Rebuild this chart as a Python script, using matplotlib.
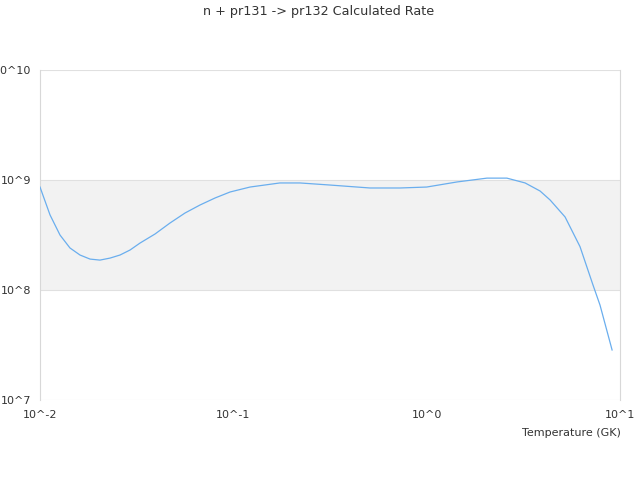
import matplotlib
matplotlib.use("Agg")
import matplotlib.pyplot as plt
from matplotlib.ticker import FixedLocator, FixedFormatter, NullLocator

title = "n + pr131 -> pr132 Calculated Rate"
xlabel = "Temperature (GK)"

temperature = [0.01, 0.01127, 0.01269, 0.01429, 0.0161, 0.01815, 0.02042, 0.02302,
               0.02594, 0.02923, 0.03289, 0.03936, 0.04699, 0.05623, 0.0673, 0.0804,
               0.0962, 0.122, 0.174, 0.221, 0.316, 0.509, 0.728, 1.0, 1.436, 2.05,
               2.6, 3.23, 3.86, 4.35, 5.2, 6.21, 7.25, 7.88, 9.1]
rate = [8.63e8, 4.81e8, 3.16e8, 2.41e8, 2.08e8, 1.91e8, 1.87e8, 1.95e8,
        2.08e8, 2.31e8, 2.67e8, 3.23e8, 4.06e8, 5.01e8, 5.93e8, 6.86e8,
        7.78e8, 8.63e8, 9.4e8, 9.4e8, 9.0e8, 8.46e8, 8.46e8, 8.63e8, 9.6e8, 1.04e9,
        1.04e9, 9.4e8, 7.94e8, 6.58e8, 4.61e8, 2.48e8, 1.11e8, 7.3e7, 2.85e7]

x_ticks = [1e-2, 1e-1, 1e0, 1e1]
x_tick_labels = ["10^-2", "10^-1", "10^0", "10^1"]
y_ticks = [1e7, 1e8, 1e9, 1e10]
y_tick_labels = ["10^7", "10^8", "10^9", "10^10"]

fig = plt.figure(figsize=(6.4, 4.8), dpi=100)
ax = fig.add_axes([40/640, 1-400/480, 580/640, 330/480])
ax.set_xscale("log")
ax.set_yscale("log")
ax.set_xlim(1e-2, 1e1)
ax.set_ylim(1e7, 1e10)

# alternate band
ax.axhspan(1e8, 1e9, color="#f2f2f2", zorder=0, lw=0)
for yv in y_ticks:
    ax.axhline(yv, color="#e0e0e0", lw=0.8, zorder=1)

ax.plot(temperature, rate, color="#6aaeee", lw=0.9, zorder=3)

ax.xaxis.set_major_locator(FixedLocator(x_ticks))
ax.xaxis.set_major_formatter(FixedFormatter(x_tick_labels))
ax.xaxis.set_minor_locator(NullLocator())
ax.yaxis.set_major_locator(FixedLocator(y_ticks))
ax.yaxis.set_major_formatter(FixedFormatter(y_tick_labels))
ax.yaxis.set_minor_locator(NullLocator())
ax.tick_params(axis="both", length=0, labelsize=8, labelcolor="#333333")
ax.tick_params(axis="x", pad=7.5)
ax.tick_params(axis="y", pad=6.5)

for s in ["top", "bottom"]:
    ax.spines[s].set_visible(False)
for s in ["left", "right"]:
    ax.spines[s].set_color("#d8d8d8")
    ax.spines[s].set_linewidth(0.8)

fig.text(319/640, 1-12/480, title, ha="center", va="center", fontsize=9.2, color="#333333")
fig.text(621/640, 1-433/480, xlabel, ha="right", va="center", fontsize=8, color="#333333")

fig.savefig("out.png", dpi=100)
